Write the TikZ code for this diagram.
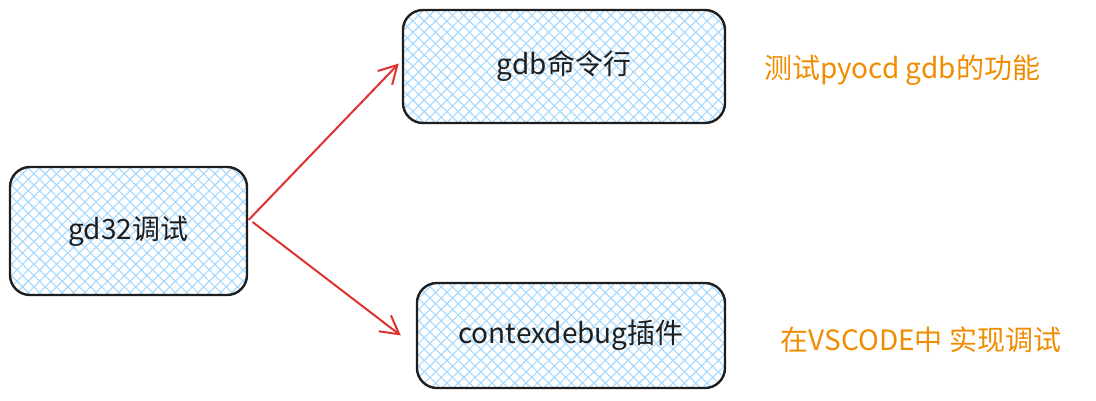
\documentclass[tikz,border=0pt]{standalone}
\usepackage{fontspec}
\setmainfont{Noto Sans CJK SC}
\usetikzlibrary{arrows.meta,patterns.meta}
\definecolor{hatch}{HTML}{A5D8FF}
\definecolor{ink}{HTML}{1E1E1E}
\definecolor{arrowred}{HTML}{E03131}
\definecolor{note}{HTML}{F08C00}
\tikzset{
  sketchbox/.style={draw=ink, line width=2.4pt, rounded corners=20pt,
    font=\fontsize{28}{32}\selectfont, text=ink,
    preaction={pattern={Lines[angle=45,distance=8pt,line width=1.1pt]}, pattern color=hatch},
    pattern={Lines[angle=-45,distance=8pt,line width=1.1pt]}, pattern color=hatch},
  link/.style={draw=arrowred, line width=2pt, -{Straight Barb[length=18pt,width=20pt,line width=2pt]}},
  notetext/.style={text=note, font=\fontsize{28}{32}\selectfont}
}
\begin{document}
\begin{tikzpicture}[x=1pt,y=-1pt]
\useasboundingbox (0,0) rectangle (1096,400);
\node[sketchbox, minimum width=237pt, minimum height=128pt] (a) at (128.5,231) {gd32调试};
\node[sketchbox, minimum width=322pt, minimum height=113pt] (b) at (564,66.5) {gdb命令行};
\node[sketchbox, minimum width=308pt, minimum height=105pt] (c) at (571,335.5) {contexdebug插件};
\node[notetext] (n1) at (902,70) {测试pyocd gdb的功能};
\node[notetext] (n2) at (921,340) {在VSCODE中 实现调试};
\draw[link] ([yshift=11pt,xshift=1pt]a.east) -- ([xshift=-3pt,yshift=3pt]b.west);
\draw[link] ([yshift=9pt,xshift=5pt]a.east) -- ([xshift=-15pt]c.west);
\end{tikzpicture}
\end{document}
